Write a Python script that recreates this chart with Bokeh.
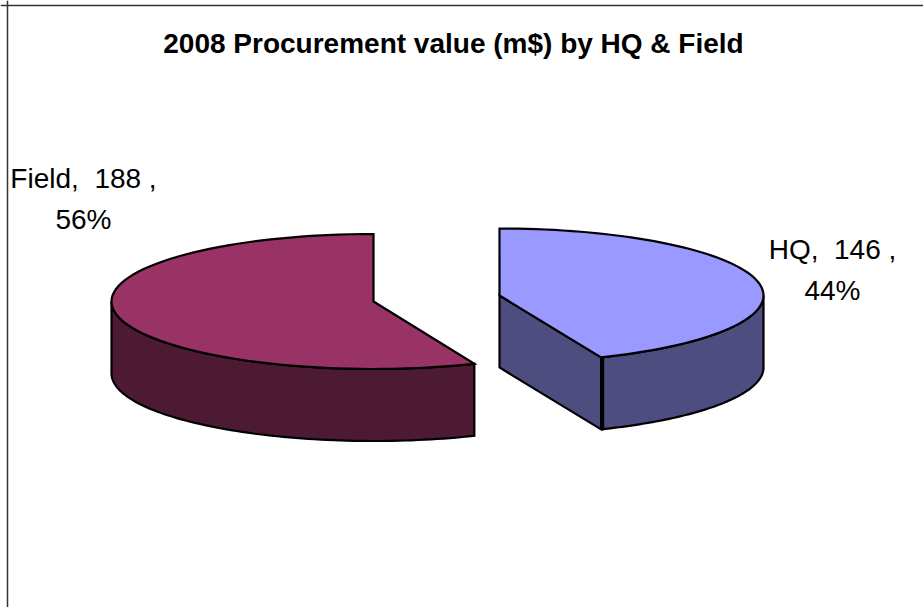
import numpy as np
from bokeh.plotting import figure
from bokeh.models import Range1d, Span
from bokeh.core.properties import value
from bokeh.embed import file_html
from bokeh.resources import INLINE

title = "2008 Procurement value (m$) by HQ & Field"
categories = ["HQ", "Field"]
values = [146, 188]
shares = ["44%", "56%"]

top_colors = ["#9999FF", "#993366"]
wall_colors = ["#4D4D80", "#4D1A33"]

WIDTH, HEIGHT = 923, 607
p = figure(width=WIDTH, height=HEIGHT, output_backend="svg", toolbar_location=None,
           x_range=Range1d(0, WIDTH), y_range=Range1d(HEIGHT, 0), min_border=0,
           outline_line_color=None)
p.axis.visible = False
p.grid.visible = False

p.add_layout(Span(location=7, dimension="height", line_color="#333333", line_width=1.5))
p.add_layout(Span(location=5, dimension="width", line_color="#333333", line_width=1.5))

split = 360.0 * values[0] / sum(values)
DEPTH = 72


def arc(cx, cy, rx, ry, a0, a1, n=80):
    t = np.radians(np.linspace(a0, a1, n))
    return cx + rx * np.sin(t), cy - ry * np.cos(t)


def poly(xs, ys, color):
    p.patch(list(xs), list(ys), fill_color=color, line_color="black", line_width=2.2,
            line_join="miter")


# Field slice, from the split round to the top
cx, cy, rx, ry = 373.0, 301.0, 262.0, 67.5
ax, ay = arc(cx, cy, rx, ry, split, 270)
poly(np.r_[ax, ax[::-1]], np.r_[ay, ay[::-1] + DEPTH], wall_colors[1])
ax, ay = arc(cx, cy, rx, ry, split, 360)
poly(np.r_[cx, ax], np.r_[cy, ay], top_colors[1])

# HQ slice, from the top round to the split
cx, cy, rx, ry = 499.0, 295.0, 264.0, 67.0
vx, vy = arc(cx, cy, rx, ry, split, split, 1)
poly([cx, vx[0], vx[0], cx], [cy, vy[0], vy[0] + DEPTH, cy + DEPTH], wall_colors[0])
ax, ay = arc(cx, cy, rx, ry, 90, split)
poly(np.r_[ax + 2 * (ax < vx[0] + 1), ax[::-1] + 2 * (ax[::-1] < vx[0] + 1)],
     np.r_[ay, ay[::-1] + DEPTH], wall_colors[0])
ax, ay = arc(cx, cy, rx, ry, 0, split)
poly(np.r_[cx, ax], np.r_[cy, ay], top_colors[0])

text_font = value("Liberation Sans")
p.text([453], [43], text=[title], text_font=text_font, text_font_size="28px",
       text_font_style="bold", text_align="center", text_baseline="middle", text_color="black")

label_x = [832, 83]
label_y = [249, 178]
for x, y, c, v, s in zip(label_x, label_y, categories, values, shares):
    p.text([x], [y], text=[f"{c},\u00a0 {v} ,"], text_font=text_font, text_font_size="28px",
           text_align="center", text_baseline="middle", text_color="black")
    p.text([x], [y + 41], text=[s], text_font=text_font, text_font_size="28px",
           text_align="center", text_baseline="middle", text_color="black")

open("out.html", "w").write(file_html(p, INLINE))
